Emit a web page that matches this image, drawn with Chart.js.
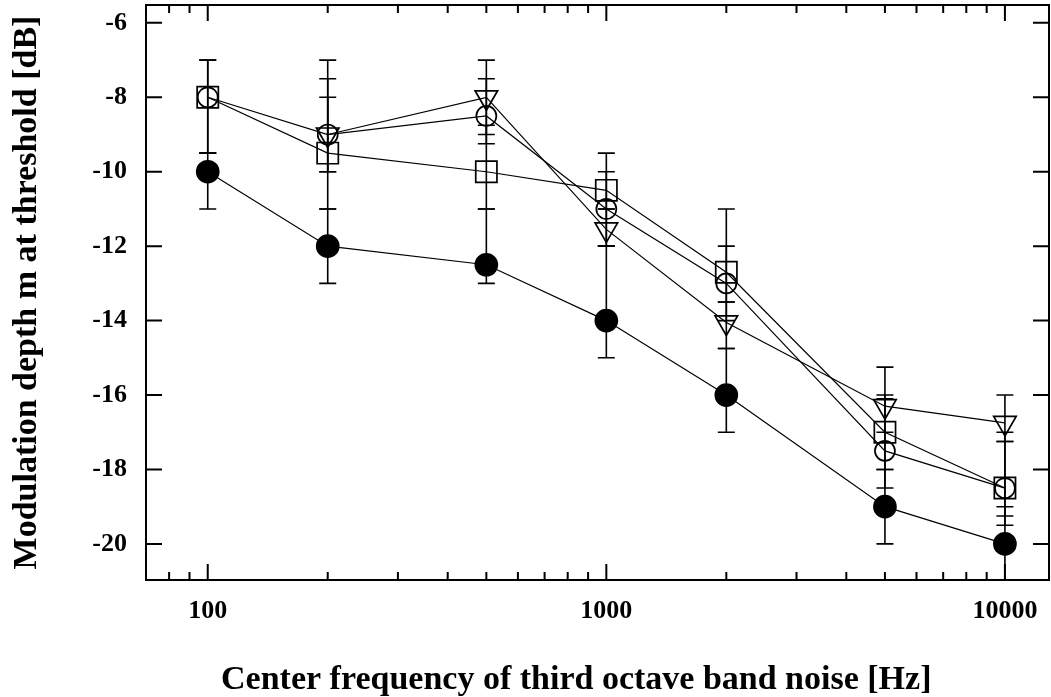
<!DOCTYPE html>
<html>
<head>
<meta charset="utf-8">
<script src="https://cdn.jsdelivr.net/npm/chart.js@4.4.1/dist/chart.umd.min.js"></script>
<style>
  html, body { margin: 0; padding: 0; background: #fff; }
  #wrap { width: 1051px; height: 697px; position: relative; }
</style>
</head>
<body>
<div id="wrap"><canvas id="chart"></canvas></div>
<script>
// centre frequencies of the noise bands [Hz]
const frequencies = [100, 200, 500, 1000, 2000, 5000, 10000];

// filled circles
const filledCircle = [-10, -12, -12.5, -14, -16, -19, -20];
const filledCircleLow = [-11, -13, -13, -15, -17, -20, -22];
const filledCircleHigh = [-9.5, -11, -11, -12, -14.75, -18, -19];

// open circles
const openCircle = [-8, -9, -8.5, -11, -13, -17.5, -18.5];
const openCircleLow = [-9.5, -10, -9.25, -12, -14, -18.5, -19.25];
const openCircleHigh = [-7, -8, -7.5, -10, -12, -16, -17.25];

// open squares
const square = [-8, -9.5, -10, -10.5, -12.7, -17, -18.5];
const squareLow = [-9.5, -10, -11, -11, -13.5, -18, -19.5];
const squareHigh = [-7, -7.5, -8.75, -9.5, -11, -16.1, -17];

// open down-pointing triangles (no point at 100 Hz)
const triangle = [null, -9, -8, -11.55, -14.05, -16.3, -16.75];
const triangleLow = [null, -11, -9, -12, -14.75, -17, -17.25];
const triangleHigh = [null, -7, -7, -11, -13.5, -15.25, -16];

const xTickLabels = [100, 1000, 10000];
const xMinorTicks = [80, 90, 200, 300, 400, 500, 600, 700, 800, 900,
                     2000, 3000, 4000, 5000, 6000, 7000, 8000, 9000];
const yTickLabels = [-6, -8, -10, -12, -14, -16, -18, -20];

const serif = 'Liberation Serif';

function points(values) {
    const out = [];
    values.forEach((v, i) => {
        if (v !== null) out.push({ x: frequencies[i], y: v });
    });
    return out;
}

function series(values, low, high, style) {
    return {
        data: points(values),
        errLow: low,
        errHigh: high,
        borderColor: '#000',
        borderWidth: 1.2,
        pointBorderColor: '#000',
        pointBorderWidth: 1.7,
        tension: 0,
        fill: false,
        ...style
    };
}

// keep the plot box fixed: no extra room for overhanging tick labels
function noPadding(s) {
    s.paddingTop = 0;
    s.paddingBottom = 0;
    s.paddingLeft = 0;
    s.paddingRight = 0;
}

// vertical error bars with caps, drawn under the markers
const errorBars = {
    id: 'errorBars',
    beforeDatasetsDraw(chart) {
        const { ctx, chartArea, scales } = chart;
        ctx.save();
        ctx.beginPath();
        ctx.rect(chartArea.left, chartArea.top, chartArea.right - chartArea.left, chartArea.bottom - chartArea.top);
        ctx.clip();
        ctx.strokeStyle = '#000';
        ctx.lineWidth = 1.6;
        const cap = 8.5;
        chart.data.datasets.forEach(ds => {
            frequencies.forEach((f, i) => {
                const lo = ds.errLow[i], hi = ds.errHigh[i];
                if (lo === null || hi === null) return;
                const x = scales.x.getPixelForValue(f);
                const y1 = scales.y.getPixelForValue(lo);
                const y2 = scales.y.getPixelForValue(hi);
                ctx.beginPath();
                ctx.moveTo(x, y1); ctx.lineTo(x, y2);
                ctx.moveTo(x - cap, y1); ctx.lineTo(x + cap, y1);
                ctx.moveTo(x - cap, y2); ctx.lineTo(x + cap, y2);
                ctx.stroke();
            });
        });
        ctx.restore();
    }
};

// boxed frame with inward ticks on all four sides
const frame = {
    id: 'frame',
    afterDraw(chart) {
        const { ctx, chartArea: a, scales } = chart;
        const major = 16, minor = 8;
        ctx.save();
        ctx.strokeStyle = '#000';
        ctx.lineWidth = 2;
        ctx.strokeRect(a.left, a.top, a.right - a.left, a.bottom - a.top);
        ctx.beginPath();
        const xTick = (v, len) => {
            const x = scales.x.getPixelForValue(v);
            ctx.moveTo(x, a.bottom); ctx.lineTo(x, a.bottom - len);
            ctx.moveTo(x, a.top); ctx.lineTo(x, a.top + len);
        };
        xTickLabels.forEach(v => xTick(v, major));
        xMinorTicks.forEach(v => xTick(v, minor));
        yTickLabels.forEach(v => {
            const y = scales.y.getPixelForValue(v);
            ctx.moveTo(a.left, y); ctx.lineTo(a.left + major, y);
            ctx.moveTo(a.right, y); ctx.lineTo(a.right - major, y);
        });
        ctx.stroke();
        ctx.restore();
    }
};

new Chart(document.getElementById('chart'), {
    type: 'line',
    data: {
        datasets: [
            series(filledCircle, filledCircleLow, filledCircleHigh, {
                pointStyle: 'circle', pointRadius: 11, pointBackgroundColor: '#000'
            }),
            series(openCircle, openCircleLow, openCircleHigh, {
                pointStyle: 'circle', pointRadius: 10, pointBackgroundColor: 'rgba(0,0,0,0)'
            }),
            series(square, squareLow, squareHigh, {
                pointStyle: 'rect', pointRadius: 15, pointBackgroundColor: 'rgba(0,0,0,0)'
            }),
            series(triangle, triangleLow, triangleHigh, {
                pointStyle: 'triangle', pointRotation: 180, pointRadius: 13,
                pointBackgroundColor: 'rgba(0,0,0,0)'
            })
        ]
    },
    options: {
        responsive: true,
        maintainAspectRatio: false,
        animation: false,
        events: [],
        layout: { autoPadding: false, padding: { top: 5, right: 2, left: 0, bottom: 0 } },
        plugins: { legend: { display: false }, tooltip: { enabled: false } },
        scales: {
            x: {
                type: 'logarithmic',
                min: 70,
                max: 12900,
                grid: { display: false, drawTicks: false },
                border: { display: false },
                afterBuildTicks(s) { s.ticks = xTickLabels.map(v => ({ value: v })); },
                afterFit(s) { s.height = 117; noPadding(s); },
                ticks: {
                    color: '#000',
                    padding: 16,
                    maxRotation: 0,
                    autoSkip: false,
                    font: { family: serif, size: 26, weight: 'bold' },
                    callback: v => String(v)
                },
                title: {
                    display: true,
                    text: 'Center frequency of third octave band noise [Hz]\u00a0\u00a0\u00a0\u00a0\u00a0',
                    color: '#000',
                    font: { family: serif, size: 34, weight: 'bold', lineHeight: 1 },
                    padding: { top: 0, bottom: 0 }
                }
            },
            y: {
                min: -20.97,
                max: -5.52,
                grid: { display: false, drawTicks: false },
                border: { display: false },
                afterBuildTicks(s) { s.ticks = yTickLabels.map(v => ({ value: v })); },
                afterFit(s) { s.width = 146; noPadding(s); },
                ticks: {
                    color: '#000',
                    padding: 19,
                    font: { family: serif, size: 26, weight: 'bold' },
                    callback: v => String(v)
                },
                title: {
                    display: true,
                    text: 'Modulation depth m at threshold [dB]',
                    color: '#000',
                    font: { family: serif, size: 34, weight: 'bold', lineHeight: 1 },
                    padding: { top: 10, bottom: 0 }
                }
            }
        }
    },
    plugins: [errorBars, frame]
});
</script>
</body>
</html>
